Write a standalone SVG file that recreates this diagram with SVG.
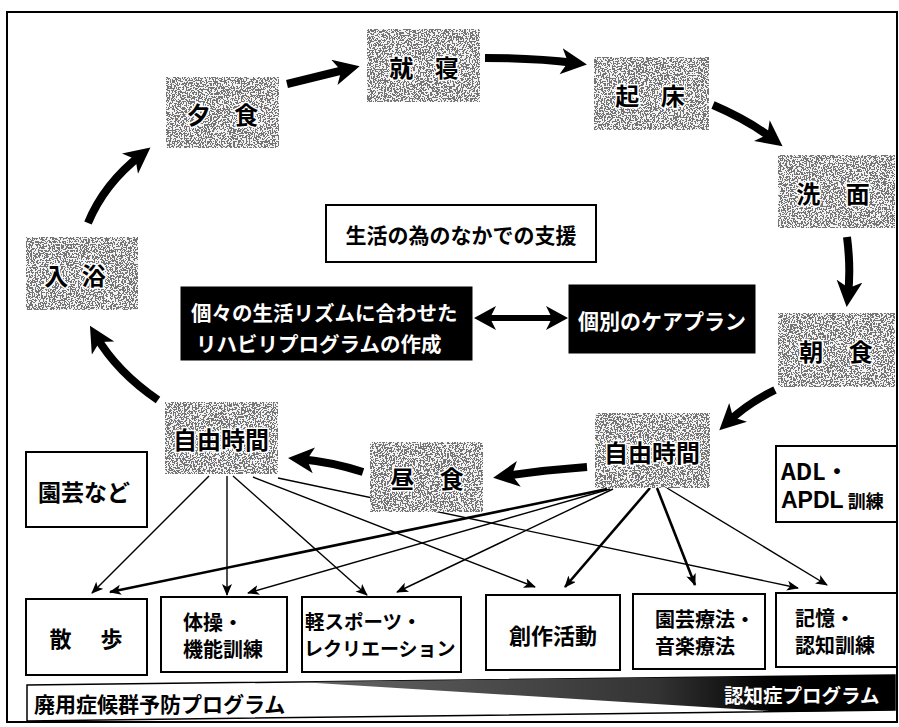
<svg xmlns="http://www.w3.org/2000/svg" width="899" height="727" viewBox="0 0 899 727">
<defs>
<style>
text{font-family:"Noto Sans CJK JP","Noto Sans",sans-serif;fill:#000;font-weight:bold}
.gl{font-size:24px;stroke:#fff;stroke-width:3px;paint-order:stroke;text-anchor:middle;dominant-baseline:central}
.wb{fill:#fff;stroke:#000;stroke-width:2}
.bb{fill:#000;stroke:#000}
.wt{fill:#fff}
.thick{fill:none;stroke:#000;stroke-width:8;marker-end:url(#bigHead)}
.thin{fill:none;stroke:#000;stroke-width:1.4;marker-end:url(#smallHead)}
.med{fill:none;stroke:#000;stroke-width:2.6;marker-end:url(#smallHead)}
.gray{filter:url(#grain);fill:#000}
</style>
<filter id="grain" x="0" y="0" width="1" height="1">
<feTurbulence type="fractalNoise" baseFrequency="0.65" numOctaves="2" seed="4" result="t"/>
<feColorMatrix in="t" type="matrix" values="3 0 0 0 -1 3 0 0 0 -1 3 0 0 0 -1 0 0 0 0 1" result="g"/>
<feComponentTransfer in="g" result="b">
<feFuncR type="discrete" tableValues="0.18 0.9"/>
<feFuncG type="discrete" tableValues="0.18 0.9"/>
<feFuncB type="discrete" tableValues="0.18 0.9"/>
</feComponentTransfer>
<feComposite in="b" in2="SourceGraphic" operator="in"/>
</filter>
<linearGradient id="wedgeFill" x1="300" y1="0" x2="895" y2="0" gradientUnits="userSpaceOnUse">
<stop offset="0" stop-color="#666"/>
<stop offset="0.6" stop-color="#333"/>
<stop offset="0.8" stop-color="#000"/>
<stop offset="1" stop-color="#000"/>
</linearGradient>
<marker id="bigHead" markerUnits="userSpaceOnUse" markerWidth="28" markerHeight="28" refX="14" refY="13" orient="auto" viewBox="0 0 28 28">
<path d="M0,0 L26,13 L0,26 L7,13 z" fill="#000"/>
</marker>
<marker id="dblHead" markerUnits="userSpaceOnUse" markerWidth="26" markerHeight="26" refX="12" refY="12" orient="auto-start-reverse" viewBox="0 0 26 26">
<path d="M0,0 L22,12 L0,24 L6,12 z" fill="#000"/>
</marker>
<marker id="smallHead" markerUnits="userSpaceOnUse" markerWidth="14" markerHeight="12" refX="11" refY="5" orient="auto" viewBox="0 0 14 12">
<path d="M0,0 L12,5 L0,10 L3,5 z" fill="#000"/>
</marker>
</defs>

<rect x="7" y="12" width="890" height="710" fill="#fff" stroke="#000" stroke-width="2"/>

<g id="connectors">
<path class="thick" d="M88,223 Q104,184 141,155"/>
<path class="thick" d="M287,84 L348,69"/>
<path class="thick" d="M485,58 Q535,58 575,63"/>
<path class="thick" d="M713,105 Q748,120 773,139"/>
<path class="thick" d="M847,237 Q851,268 848,295"/>
<path class="thick" d="M775,390 Q748,403 728,422"/>
<path class="thick" d="M587,467 Q545,470 505,476"/>
<path class="thick" d="M363,472 Q332,462 300,459"/>
<path class="thick" d="M158,400 Q117,372 96,336"/>
<path d="M484,318 L558,318" fill="none" stroke="#000" stroke-width="6" marker-start="url(#dblHead)" marker-end="url(#dblHead)"/>
<path class="thin" d="M209,476 L92,593"/>
<path class="thin" d="M227,476 L227,595"/>
<path class="thin" d="M233,476 L367,595"/>
<path class="thin" d="M253,477 L535,587"/>
<path class="thin" d="M278,478 L798,588"/>
<path class="med" d="M607,489 L110,592"/>
<path class="thin" d="M610,489 L248,593"/>
<path class="thin" d="M613,489 L397,592"/>
<path class="med" d="M650,488 L565,587"/>
<path class="med" d="M657,488 L695,585"/>
<path class="thin" d="M667,488 L827,585"/>
</g>

<g id="n-yushoku"><rect class="gray" x="166" y="77" width="113" height="71"/><text class="gl" x="227" y="113" letter-spacing="9">夕 食</text></g>
<g id="n-shushin"><rect class="gray" x="367" y="29" width="113" height="73"/><text class="gl" x="428" y="66" letter-spacing="8">就 寝</text></g>
<g id="n-kisho"><rect class="gray" x="594" y="57" width="115" height="73"/><text class="gl" x="654" y="94" letter-spacing="8">起 床</text></g>
<g id="n-senmen"><rect class="gray" x="778" y="155" width="117" height="73"/><text class="gl" x="838" y="192" letter-spacing="10">洗 面</text></g>
<g id="n-choshoku"><rect class="gray" x="778" y="313" width="117" height="74"/><text class="gl" x="841" y="350" letter-spacing="10">朝 食</text></g>
<g id="n-jiyu-r"><rect class="gray" x="595" y="413" width="115" height="75"/><text class="gl" x="652" y="451">自由時間</text></g>
<g id="n-chushoku"><rect class="gray" x="370" y="442" width="113" height="70"/><text class="gl" x="432" y="477" letter-spacing="10">昼 食</text></g>
<g id="n-jiyu-l"><rect class="gray" x="165" y="402" width="113" height="72"/><text class="gl" x="221" y="438">自由時間</text></g>
<g id="n-nyuyoku"><rect class="gray" x="26" y="237" width="112" height="73"/><text class="gl" x="77" y="274" letter-spacing="4">入 浴</text></g>

<g id="n-shien"><rect class="wb" x="326" y="205" width="270" height="57"/><text x="461" y="234" font-size="21" text-anchor="middle" dominant-baseline="central">生活の為のなかでの支援</text></g>
<g id="n-rihabiri"><rect class="bb" x="181" y="287" width="291" height="73"/><text class="wt" x="191" y="312" font-size="20.5" dominant-baseline="central">個々の生活リズムに合わせた</text><text class="wt" x="196" y="343" font-size="20.5" dominant-baseline="central">リハビリプログラムの作成</text></g>
<g id="n-careplan"><rect class="bb" x="569" y="285" width="186" height="68"/><text class="wt" x="662" y="320" font-size="21" text-anchor="middle" dominant-baseline="central">個別のケアプラン</text></g>
<g id="n-engei"><rect class="wb" x="26" y="452" width="121" height="75"/><text x="84" y="491" font-size="23" text-anchor="middle" dominant-baseline="central">園芸など</text></g>
<g id="n-adl"><rect class="wb" x="776" y="446" width="121" height="76"/><text x="781" y="470" font-family="Liberation Sans" font-size="23" dominant-baseline="central">ADL・</text><text x="781" y="500" font-size="23" dominant-baseline="central"><tspan font-family="Liberation Sans">APDL</tspan><tspan font-size="18"> 訓練</tspan></text></g>

<g id="n-sanpo"><rect class="wb" x="26" y="599" width="121" height="76"/><text x="92" y="637" font-size="22" text-anchor="middle" dominant-baseline="central" letter-spacing="12">散 歩</text></g>
<g id="n-taiso"><rect class="wb" x="161" y="597" width="126" height="75"/><text x="183" y="621" font-size="20" dominant-baseline="central">体操・</text><text x="183" y="648" font-size="20" dominant-baseline="central">機能訓練</text></g>
<g id="n-sports"><rect class="wb" x="302" y="597" width="159" height="75"/><text x="305" y="620" font-size="19.5" dominant-baseline="central">軽スポーツ・</text><text x="304" y="647" font-size="19" dominant-baseline="central">レクリエーション</text></g>
<g id="n-sosaku"><rect class="wb" x="486" y="595" width="134" height="75"/><text x="553" y="634" font-size="22" text-anchor="middle" dominant-baseline="central">創作活動</text></g>
<g id="n-ryoho"><rect class="wb" x="633" y="594" width="132" height="75"/><text x="655" y="618" font-size="20" dominant-baseline="central">園芸療法・</text><text x="655" y="645" font-size="20" dominant-baseline="central">音楽療法</text></g>
<g id="n-kioku"><rect class="wb" x="776" y="593" width="121" height="74"/><text x="795" y="617" font-size="20" dominant-baseline="central">記憶・</text><text x="795" y="644" font-size="20" dominant-baseline="central">認知訓練</text></g>

<g id="n-bar">
<polygon points="27,685 895,675 895,710 27,721" fill="#fff" stroke="#000" stroke-width="1.5"/>
<polygon points="300,682 895,675 895,710 785,712" fill="url(#wedgeFill)"/>
<text x="34" y="703" font-size="21" dominant-baseline="central">廃用症候群予防プログラム</text>
<text x="724" y="694" font-size="19.5" class="wt" dominant-baseline="central">認知症プログラム</text>
</g>
</svg>
